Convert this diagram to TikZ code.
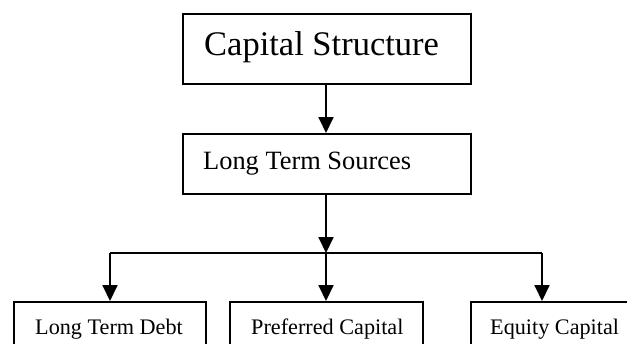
\documentclass[tikz,border=0pt]{standalone}
\usepackage{fontspec}
\setmainfont{Liberation Serif}
\usetikzlibrary{arrows.meta}
\begin{document}
\begin{tikzpicture}[x=1pt,y=-1pt,
  box/.style={draw,line width=2pt,rectangle,inner sep=0pt,anchor=north west},
  lbl/.style={inner sep=0pt,anchor=base west},
  conn/.style={line width=2pt,-{Triangle[width=15pt,length=16pt]}},
  plain/.style={line width=2pt}]
\useasboundingbox (0,0) rectangle (627,343);
\clip (0,0) rectangle (627,343);
% boxes
\node[box,minimum width=288pt,minimum height=70pt] (cs) at (182,13) {};
\node[box,minimum width=288pt,minimum height=60pt] (lts) at (182,133) {};
\node[box,minimum width=192pt,minimum height=60pt] (ltd) at (13,301) {};
\node[box,minimum width=193pt,minimum height=60pt] (pc) at (229,301) {};
\node[box,minimum width=193pt,minimum height=60pt] (ec) at (470,301) {};
% texts
\node[lbl,font=\fontsize{34.5}{40}\selectfont] (tcs) at (204,55) {Capital Structure};
\node[lbl,font=\fontsize{26.4}{30}\selectfont] (tlts) at (203,169) {Long Term Sources};
\node[lbl,font=\fontsize{22.2}{26}\selectfont] (tltd) at (35,334) {Long Term Debt};
\node[lbl,font=\fontsize{22.2}{26}\selectfont] (tpc) at (251,334) {Preferred Capital};
\node[lbl,font=\fontsize{22.2}{26}\selectfont] (tec) at (490,334) {Equity Capital};
% junction
\coordinate (j) at (326,253);
\coordinate (jl) at (ltd.north -| 110,0);
\coordinate (jr) at (542,253);
\coordinate (jl0) at (110,253);
% connectors
\draw[conn] (cs.south -| 326,0) -- (lts.north -| 326,0);
\draw[conn] (lts.south -| 326,0) -- (j);
\draw[plain] (jl0) -- (jr);
\draw[conn] (jl0) -- (jl);
\draw[conn] (j) -- (pc.north -| j);
\draw[conn] (jr) -- (ec.north -| jr);
\end{tikzpicture}
\end{document}
